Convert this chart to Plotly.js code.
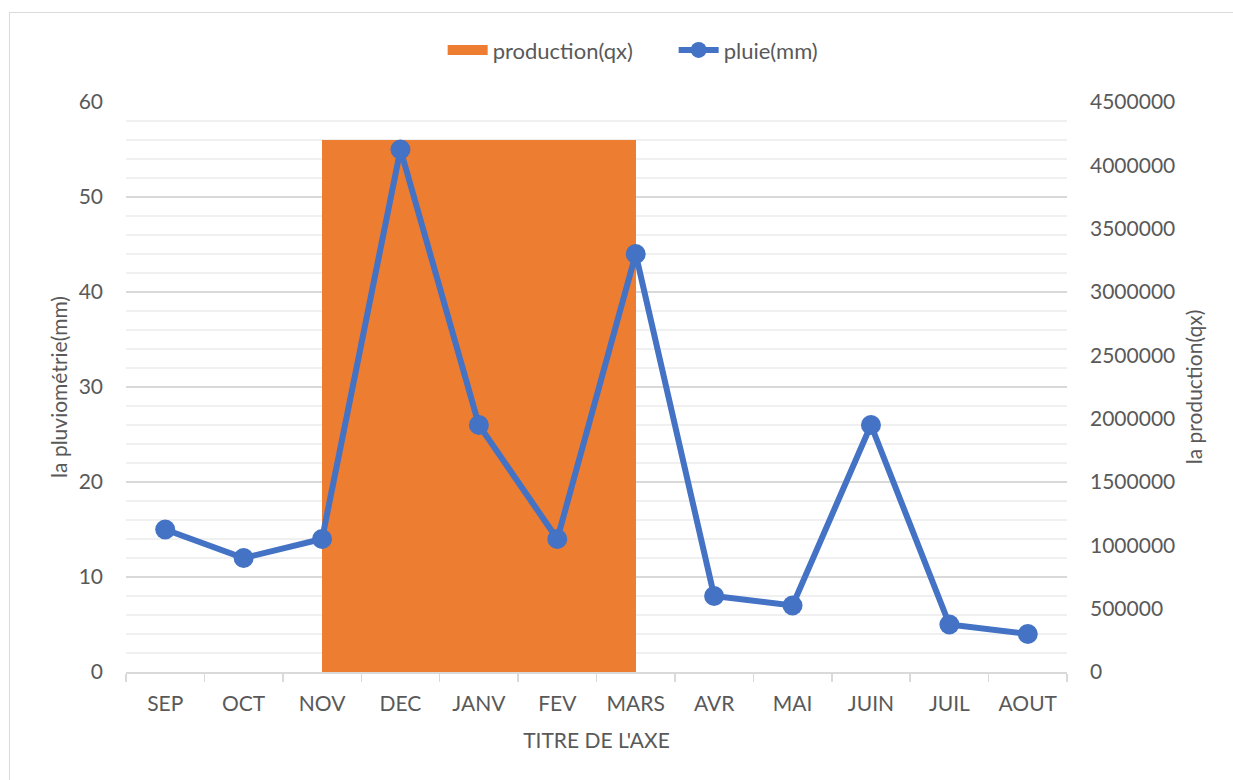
<!DOCTYPE html>
<html>
<head>
<meta charset="utf-8">
<script src="https://cdn.plot.ly/plotly-3.0.1.min.js"></script>
<style>
  html, body { margin: 0; padding: 0; background: #ffffff; overflow: hidden; }
  #frame { position: absolute; left: 9px; top: 12px; width: 1400px; height: 900px; border: 1.5px solid #d9d9d9; box-sizing: border-box; }
  #chart { position: absolute; left: 0; top: 0; width: 1233px; height: 780px; }
</style>
</head>
<body>
<div id="frame"></div>
<div id="chart"></div>
<script>
const months = ["SEP", "OCT", "NOV", "DEC", "JANV", "FEV", "MARS", "AVR", "MAI", "JUIN", "JUIL", "AOUT"];
const pluie = [15, 12, 14, 55, 26, 14, 44, 8, 7, 26, 5, 4];
const production = [0, 0, 0, 4200000, 4200000, 4200000, 4200000, 0, 0, 0, 0, 0];
const leftTicks = [0, 10, 20, 30, 40, 50, 60];
const rightTicks = [0, 500000, 1000000, 1500000, 2000000, 2500000, 3000000, 3500000, 4000000, 4500000];

const FONT = "Lato, 'Open Sans', sans-serif";
const GREY = "#595959";
const FS = 21;

const traces = [
  {
    type: "bar",
    name: "production(qx)",
    legendgroup: "prod",
    showlegend: false,
    x: months,
    y: production,
    yaxis: "y",
    width: 1,
    offset: -1,
    marker: { color: "#ED7D31", line: { width: 0 } }
  },
  {
    // legend entry only (wide orange swatch like the original)
    type: "scatter",
    mode: "lines",
    name: "production(qx)",
    legendgroup: "prod",
    x: [null],
    y: [null],
    yaxis: "y",
    line: { color: "#ED7D31", width: 13 }
  },
  {
    type: "scatter",
    mode: "lines+markers",
    name: "pluie(mm)",
    x: months,
    y: pluie,
    yaxis: "y2",
    line: { color: "#4472C4", width: 6 },
    marker: { color: "#4472C4", size: 20 }
  }
];

const layout = {
  width: 1233,
  height: 780,
  margin: { l: 126, r: 166, t: 102, b: 108 },
  paper_bgcolor: "rgba(0,0,0,0)",
  plot_bgcolor: "rgba(0,0,0,0)",
  font: { family: FONT, size: FS, color: GREY },
  showlegend: true,
  legend: {
    orientation: "h",
    x: 0.582, xanchor: "center",
    y: 1.091, yanchor: "middle",
    font: { family: FONT, size: 22, color: GREY },
    traceorder: "normal",
    itemwidth: 40,
    entrywidth: 176,
    entrywidthmode: "pixels"
  },
  bargap: 0,
  xaxis: {
    type: "category",
    categoryorder: "array",
    categoryarray: months,
    range: [-0.5, 11.5],
    showline: true,
    linecolor: "#d9d9d9",
    linewidth: 1.5,
    ticks: "outside",
    tickson: "boundaries",
    ticklen: 8,
    tickcolor: "#d9d9d9",
    tickwidth: 1.5,
    showgrid: false,
    zeroline: false,
    tickfont: { family: FONT, size: FS, color: GREY },
    ticklabelstandoff: 12,
    title: { text: "TITRE DE L'AXE", font: { family: FONT, size: FS, color: GREY }, standoff: 19 }
  },
  yaxis: {
    side: "right",
    range: [0, 4500000],
    tickvals: rightTicks,
    ticktext: rightTicks.map(String),
    showgrid: false,
    zeroline: false,
    showline: false,
    ticks: "",
    ticklabelstandoff: 22,
    tickfont: { family: FONT, size: FS, color: GREY },
    title: { text: "la production(qx)", font: { family: FONT, size: FS, color: GREY }, standoff: 13 }
  },
  yaxis2: {
    overlaying: "y",
    side: "left",
    range: [0, 60],
    tickvals: leftTicks,
    showgrid: true,
    gridcolor: "#d9d9d9",
    gridwidth: 1.5,
    zeroline: false,
    showline: false,
    ticks: "",
    ticklabelstandoff: 22,
    minor: { dtick: 2, showgrid: true, gridcolor: "#f0f0f0", gridwidth: 1.5 },
    tickfont: { family: FONT, size: FS, color: GREY },
    title: { text: "la pluviométrie(mm)", font: { family: FONT, size: FS, color: GREY }, standoff: 5 }
  }
};

Plotly.newPlot("chart", traces, layout, { displayModeBar: false, staticPlot: true });
</script>
</body>
</html>
